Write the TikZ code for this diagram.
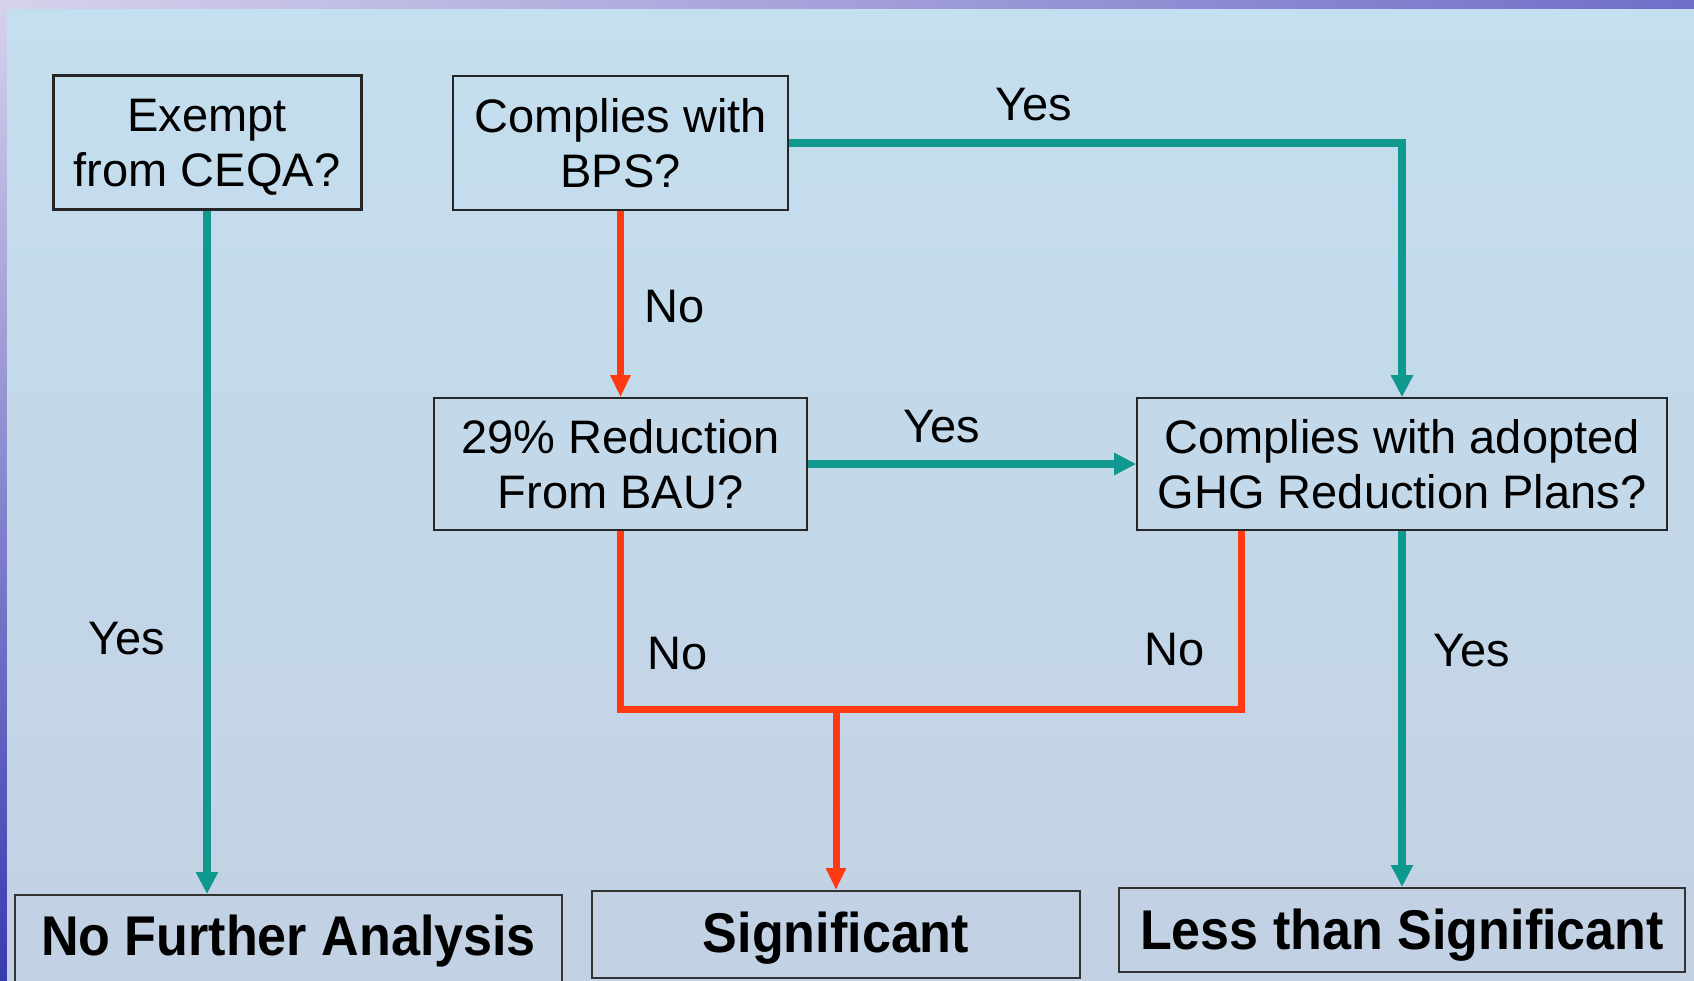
\documentclass[tikz,border=0pt]{standalone}
\usepackage{fontspec}
\setmainfont{Liberation Sans}
\usetikzlibrary{arrows.meta,calc}
\definecolor{tealc}{RGB}{14,152,142}
\definecolor{redc}{RGB}{255,58,18}
\definecolor{bgtop}{RGB}{196,223,239}
\definecolor{bgbot}{RGB}{194,209,227}
\tikzset{
  qbox/.style={draw=black!85, line width=1.6pt, align=center, inner sep=0pt,
    font=\fontsize{47}{55}\selectfont},
  endbox/.style={draw=black!80, line width=2pt, align=center, inner sep=0pt,
    font=\fontsize{56}{60}\selectfont\bfseries},
  lab/.style={font=\fontsize{47}{55}\selectfont, inner sep=0pt},
  yesline/.style={draw=tealc, line width=7.5pt, -{Triangle[length=22pt,width=21pt]}},
  noline/.style={draw=redc, line width=7pt, -{Triangle[length=22pt,width=19pt]}},
  noplain/.style={draw=redc, line width=7pt},
}
\begin{document}
\begin{tikzpicture}[x=1pt,y=-1pt]
\useasboundingbox (0,0) rectangle (1694,980);
% background frame
\fill[left color={rgb,255:red,214;green,210;blue,236}, right color={rgb,255:red,112;green,110;blue,200}] (0,0) rectangle (1694,10);
\fill[top color={rgb,255:red,214;green,210;blue,236}, bottom color={rgb,255:red,58;green,58;blue,176}] (0,0) rectangle (7,980);
\fill[top color=bgtop, bottom color=bgbot] (7,9) rectangle (1694,980);

% nodes
\node[qbox, line width=3pt, minimum width=308pt, minimum height=134pt] (ex) at (207,142)
  {\raisebox{-6pt}[\height][\depth]{\begin{tabular}{@{}c@{}}Exempt\\from CEQA?\end{tabular}}};
\node[qbox, minimum width=335pt, minimum height=134pt] (bps) at (620.5,143) {Complies with\\BPS?};
\node[qbox, minimum width=373pt, minimum height=132pt] (r29) at (620.5,464) {29\% Reduction\\From BAU?};
\node[qbox, minimum width=530pt, minimum height=132pt] (ghg) at (1402,464) {Complies with adopted\\GHG Reduction Plans?};
\node[endbox, minimum width=547pt, minimum height=92pt] (nfa) at (288.5,941) {\scalebox{0.93}[1]{No Further Analysis}};
\node[endbox, minimum width=488pt, minimum height=87pt] (sig) at (836,934.5) {\raisebox{-4pt}[\height][\depth]{\scalebox{0.93}[1]{Significant}}};
\node[endbox, minimum width=566pt, minimum height=84pt] (les) at (1402,930) {\raisebox{-5pt}[\height][\depth]{\scalebox{0.93}[1]{Less than Significant}}};

% connectors
\draw[yesline] (ex.south) -- (ex.south |- nfa.north);
\draw[noline] (bps.south) -- (r29.north);
\draw[yesline] (bps.east) -| (ghg.north);
\draw[yesline] (r29.east) -- (ghg.west);
\draw[yesline] (ghg.south) -- (les.north);
\coordinate (j) at ($(sig.north)+(0,-181)$);
\coordinate (gno) at ($(ghg.south west)+(105,0)$);
\draw[noplain, line join=miter] (r29.south) |- (j) -| (gno);
\draw[noline] (j) -- (sig.north);

% labels
\node[lab] (l1) at (1034,105) {Yes};
\node[lab] (l2) at (675,307) {No};
\node[lab] (l3) at (942,427) {Yes};
\node[lab] (l4) at (127,639) {Yes};
\node[lab] (l5) at (678,654) {No};
\node[lab] (l6) at (1175,650) {No};
\node[lab] (l7) at (1472,651) {Yes};
\end{tikzpicture}
\end{document}
